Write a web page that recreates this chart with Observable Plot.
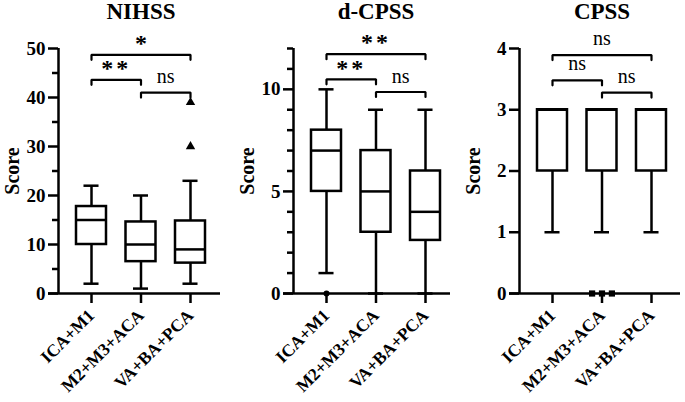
<!DOCTYPE html>
<html><head><meta charset="utf-8">
<script src="https://cdn.jsdelivr.net/npm/d3@7"></script>
<script src="https://cdn.jsdelivr.net/npm/@observablehq/plot@0.6"></script>
<style>
body{margin:0;background:#fff;}
#wrap{position:relative;width:685px;height:402px;overflow:hidden;background:#fff;}
#wrap svg{position:absolute;top:0;overflow:visible;}
</style></head><body><div id="wrap"></div>
<script>
const categories = ["ICA+M1", "M2+M3+ACA", "VA+BA+PCA"];

// Panel 1: NIHSS
const nihssTitle = "NIHSS";
const nihssLow = [2, 1, 2];
const nihssQ1 = [10, 6.5, 6.2];
const nihssMedian = [15, 10, 9];
const nihssQ3 = [17.75, 14.6, 14.8];
const nihssHigh = [22, 20, 23];
const nihssOutlierGroup = [2, 2];
const nihssOutlierValue = [30, 39];
const nihssTicks = [0, 10, 20, 30, 40, 50];
const nihssMinorTicks = [5, 15, 25, 35, 45];
const nihssBracketFrom = [0, 0, 1];
const nihssBracketTo = [2, 1, 2];
const nihssBracketY = [48.7, 43.6, 41.0];
const nihssBracketLabel = ["*", "**", "ns"];
const nihssLabelY = [51.0, 45.9, 44.2];

// Panel 2: d-CPSS
const dcpssTitle = "d-CPSS";
const dcpssLow = [1, 0, 0];
const dcpssQ1 = [5, 3, 2.6];
const dcpssMedian = [7, 5, 4];
const dcpssQ3 = [8, 7, 6];
const dcpssHigh = [10, 9, 9];
const dcpssOutlierGroup = [0];
const dcpssOutlierValue = [0];
const dcpssTicks = [0, 5, 10];
const dcpssMinorTicks = [1, 2, 3, 4, 6, 7, 8, 9, 11, 12];
const dcpssBracketFrom = [0, 0, 1];
const dcpssBracketTo = [2, 1, 2];
const dcpssBracketY = [11.72, 10.49, 9.87];
const dcpssBracketLabel = ["**", "**", "ns"];
const dcpssLabelY = [12.28, 11.05, 10.64];

// Panel 3: CPSS
const cpssTitle = "CPSS";
const cpssLow = [1, 1, 1];
const cpssQ1 = [2, 2, 2];
const cpssMedian = [3, 3, 3];
const cpssQ3 = [3, 3, 3];
const cpssHigh = [3, 3, 3];
const cpssOutlierGroup = [1, 1, 1];
const cpssOutlierValue = [0, 0, 0];
const cpssTicks = [0, 1, 2, 3, 4];
const cpssMinorTicks = [];
const cpssBracketFrom = [0, 0, 1];
const cpssBracketTo = [2, 1, 2];
const cpssBracketY = [3.892, 3.48, 3.28];
const cpssBracketLabel = ["ns", "ns", "ns"];
const cpssLabelY = [4.155, 3.747, 3.547];

const FONT = "'Liberation Serif', 'Times New Roman', serif";
const STEP = 49.5;      // px between categories
const FIRST = 33;       // px from y-axis to first category
const LW = 2.5;

function panel(p) {
  const w = p.plotWidth;
  const xDomain = [-FIRST / STEP, (w - FIRST) / STEP];
  const yMax = p.yMax;
  const rows = categories.map((c, i) => ({
    i, low: p.low[i], q1: p.q1[i], med: p.median[i], q3: p.q3[i], high: p.high[i]
  }));
  const outliers = p.outGroup.map((g, k) => ({g, v: p.outValue[k]}));
  const counts = d3.rollup(outliers, v => v.length, d => d.g + ":" + d.v);
  const seen = new Map();
  outliers.forEach(d => {
    const key = d.g + ":" + d.v, n = counts.get(key), k = seen.get(key) || 0;
    seen.set(key, k + 1);
    d.x = d.g + (k - (n - 1) / 2) * 0.2;
  });
  const drop = yMax * 0.0204;
  const bracketPts = [];
  const labels = [];
  p.bFrom.forEach((a, k) => {
    const b = p.bTo[k], y = p.bY[k];
    bracketPts.push({k, x: a, y: y - drop}, {k, x: a, y}, {k, x: b, y}, {k, x: b, y: y - drop});
    labels.push({x: (a + b) / 2, y: p.lY[k], t: p.bLabel[k]});
  });
  const half = 0.303, capHalf = 0.152;
  const svg = Plot.plot({
    width: 58 + w + p.marginRight,
    height: 402,
    marginLeft: 58, marginRight: p.marginRight, marginTop: 48, marginBottom: 109,
    style: {fontFamily: FONT, background: "white", color: "black"},
    x: {domain: xDomain},
    y: {domain: [0, yMax]},
    marks: [
      Plot.ruleX(rows, {x: "i", y1: "low", y2: "high", strokeWidth: LW}),
      Plot.ruleY(rows, {y: "low", x1: d => d.i - capHalf, x2: d => d.i + capHalf, strokeWidth: LW}),
      Plot.ruleY(rows, {y: "high", x1: d => d.i - capHalf, x2: d => d.i + capHalf, strokeWidth: LW}),
      Plot.rect(rows, {x1: d => d.i - half, x2: d => d.i + half, y1: "q1", y2: "q3", fill: "white", stroke: "black", strokeWidth: LW}),
      Plot.ruleY(rows, {y: "med", x1: d => d.i - half, x2: d => d.i + half, strokeWidth: LW}),
      Plot.axisY({ticks: p.ticks, tickFormat: d3.format("d"), tickSize: 10, tickPadding: 3, strokeWidth: LW, fontSize: 19, fontWeight: "bold", label: null}),
      Plot.axisY({ticks: p.minor, tickSize: 6, tickFormat: () => "", strokeWidth: LW, label: null}),
      Plot.ruleX([xDomain[0]], {y1: 0, y2: yMax, strokeWidth: LW}),
      Plot.ruleY([0], {x1: xDomain[0] - 10 / STEP, x2: xDomain[1], strokeWidth: LW}),
      Plot.axisX({ticks: [0, 1, 2], tickFormat: i => categories[i], tickSize: 10, tickRotate: -45, tickPadding: 9,
        strokeWidth: LW, fontSize: 17.5, fontWeight: "bold", label: null}),
      Plot.dot(outliers, {x: "x", y: "v", symbol: p.symbol, r: p.r, fill: "black", stroke: "none"}),
      Plot.line(bracketPts, {x: "x", y: "y", z: "k", strokeWidth: 2.2, strokeLinejoin: "miter", curve: "linear"}),
      Plot.text(labels.filter(d => d.t !== "ns"), {x: "x", y: "y", text: "t", fontSize: 24, fontWeight: "bold", lineAnchor: "middle"}),
      Plot.text(labels.filter(d => d.t === "ns"), {x: "x", y: "y", text: "t", fontSize: 20, fontWeight: "normal", lineAnchor: "middle"}),
      Plot.text([p.title], {x: () => 1, frameAnchor: "top", dy: -46, fontSize: 23, fontWeight: "bold", lineAnchor: "top", textAnchor: "middle"}),
      Plot.text(["Score"], {frameAnchor: "left", rotate: -90, dx: -46, fontSize: 20, fontWeight: "bold", lineAnchor: "middle", textAnchor: "middle"})
    ]
  });
  d3.select(svg).selectAll("text").filter(function() { return this.textContent === "**"; }).attr("letter-spacing", 3);
  svg.style.left = p.left + "px";
  document.getElementById("wrap").appendChild(svg);
}

panel({title: nihssTitle, low: nihssLow, q1: nihssQ1, median: nihssMedian, q3: nihssQ3, high: nihssHigh,
  outGroup: nihssOutlierGroup, outValue: nihssOutlierValue, symbol: "triangle", r: 3.5,
  ticks: nihssTicks, minor: nihssMinorTicks, yMax: 50,
  bFrom: nihssBracketFrom, bTo: nihssBracketTo, bY: nihssBracketY, bLabel: nihssBracketLabel, lY: nihssLabelY,
  left: 0, plotWidth: 162, marginRight: 8});
panel({title: dcpssTitle, low: dcpssLow, q1: dcpssQ1, median: dcpssMedian, q3: dcpssQ3, high: dcpssHigh,
  outGroup: dcpssOutlierGroup, outValue: dcpssOutlierValue, symbol: "circle", r: 3,
  ticks: dcpssTicks, minor: dcpssMinorTicks, yMax: 12,
  bFrom: dcpssBracketFrom, bTo: dcpssBracketTo, bY: dcpssBracketY, bLabel: dcpssBracketLabel, lY: dcpssLabelY,
  left: 234.7, plotWidth: 157, marginRight: 8});
panel({title: cpssTitle, low: cpssLow, q1: cpssQ1, median: cpssMedian, q3: cpssQ3, high: cpssHigh,
  outGroup: cpssOutlierGroup, outValue: cpssOutlierValue, symbol: "square", r: 3.5,
  ticks: cpssTicks, minor: cpssMinorTicks, yMax: 4,
  bFrom: cpssBracketFrom, bTo: cpssBracketTo, bY: cpssBracketY, bLabel: cpssBracketLabel, lY: cpssLabelY,
  left: 461, plotWidth: 161, marginRight: 5});
</script></body></html>
